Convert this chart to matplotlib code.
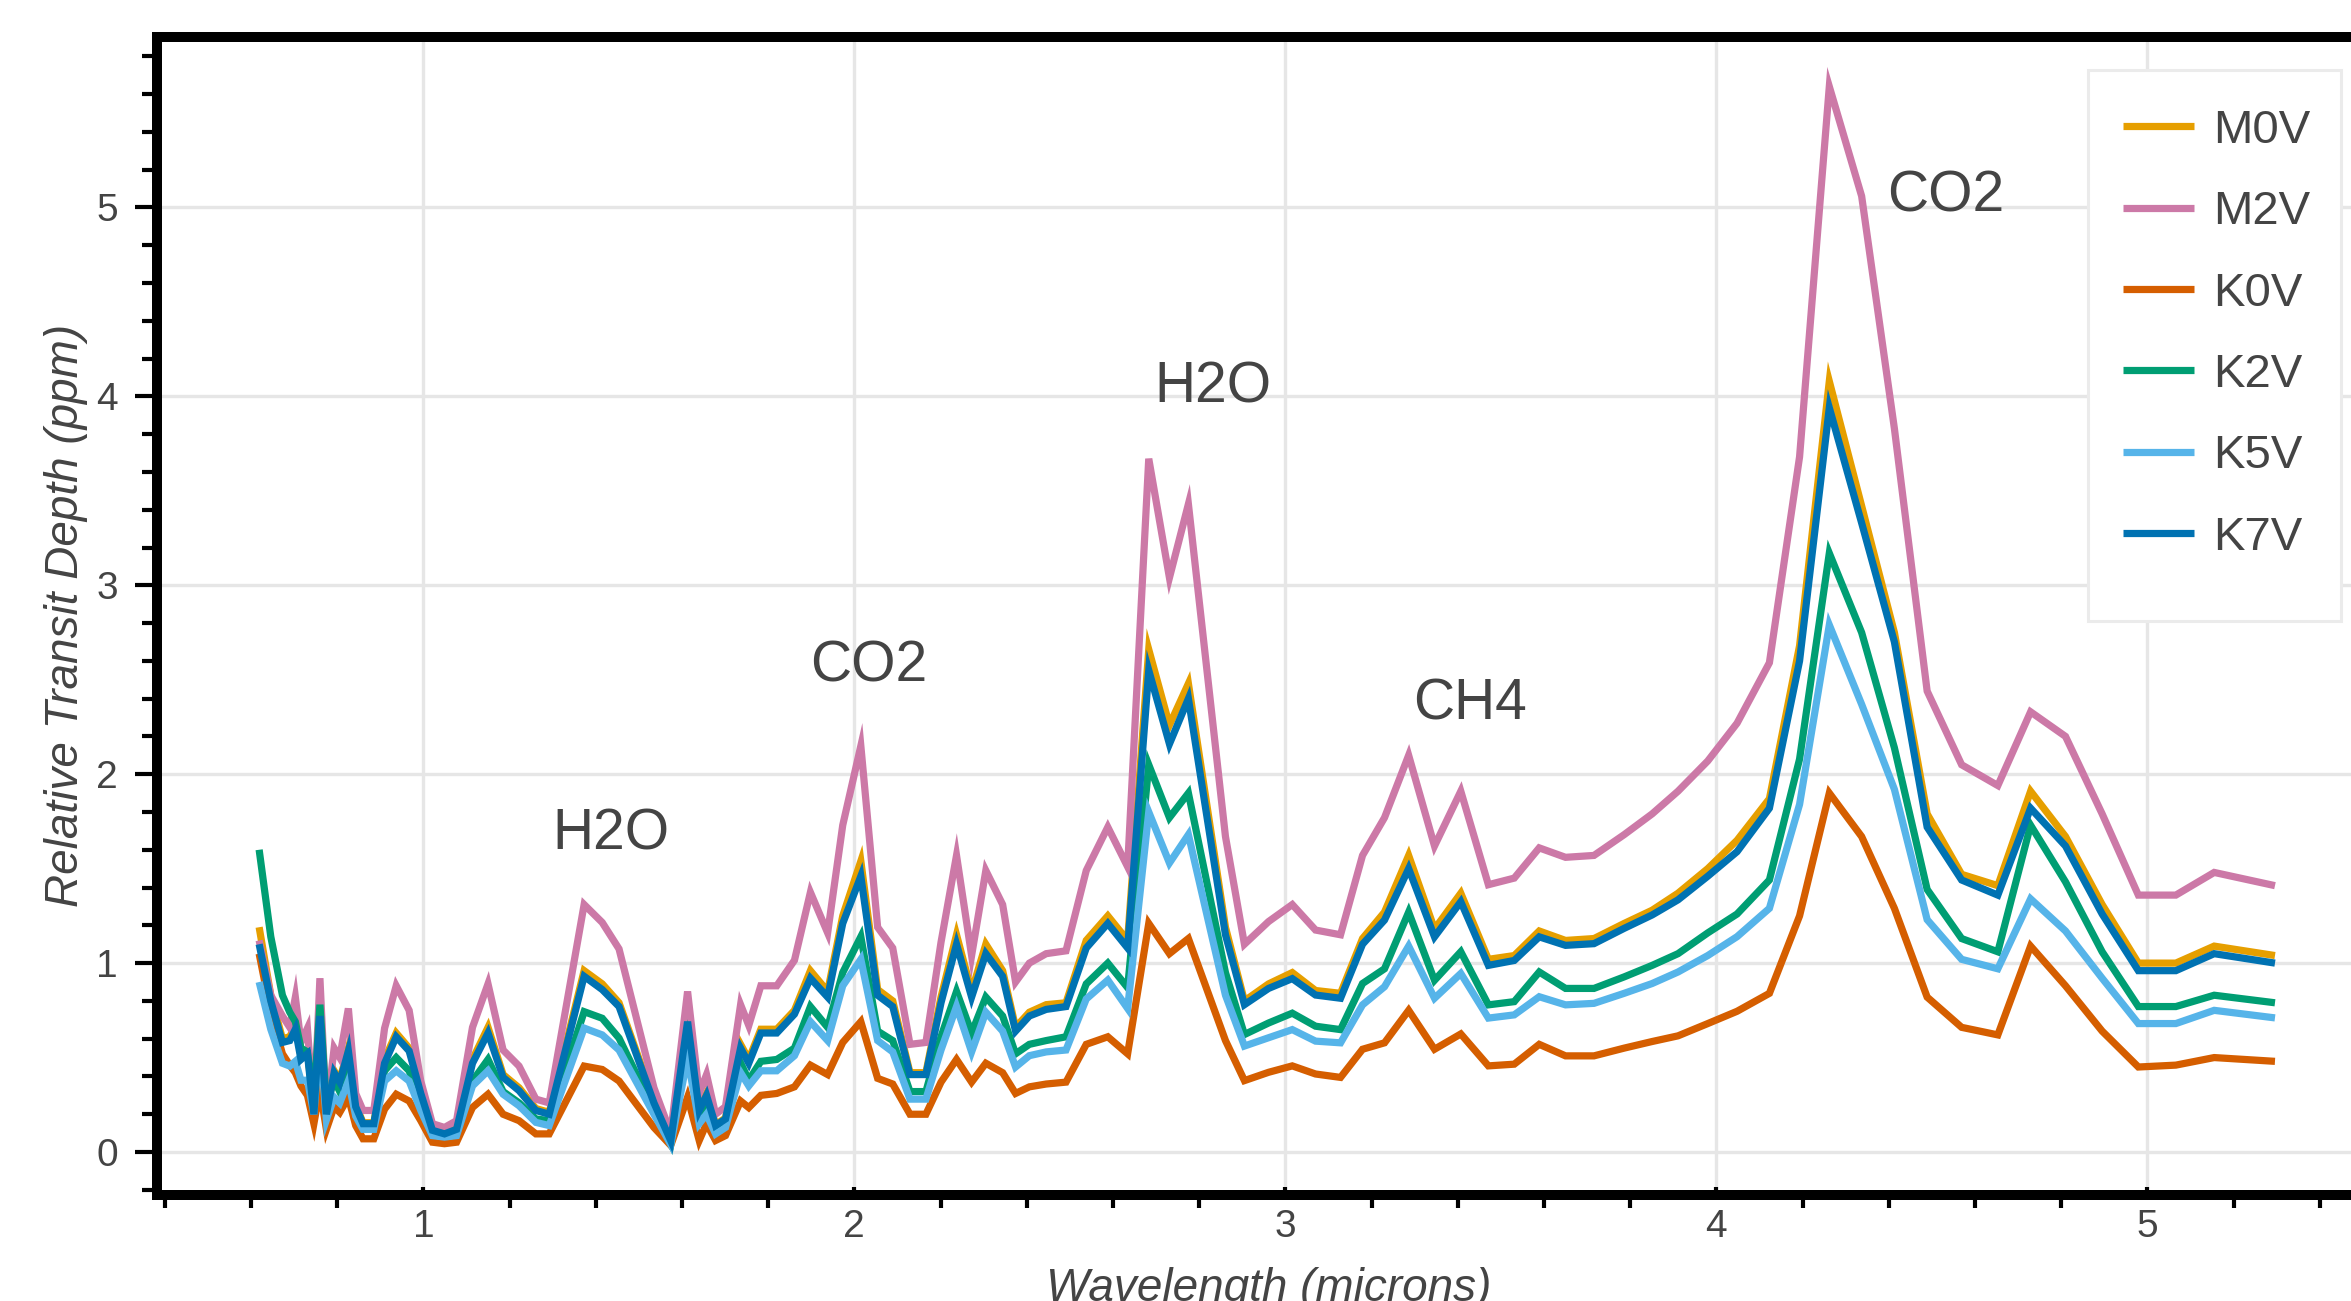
import matplotlib
matplotlib.use("Agg")
import matplotlib.pyplot as plt
from matplotlib.ticker import MultipleLocator
from matplotlib.patches import Rectangle

plt.rcParams['font.family'] = ['Liberation Sans', 'DejaVu Sans']

# ---------------- data ----------------
wavelength = [0.619, 0.646, 0.673, 0.690, 0.703, 0.716, 0.731, 0.746, 0.760, 0.775,
              0.793, 0.806, 0.826, 0.843, 0.860, 0.885, 0.910, 0.937, 0.967, 0.994,
              1.021, 1.049, 1.077, 1.114, 1.150, 1.185, 1.222, 1.261, 1.292, 1.373,
              1.415, 1.454, 1.535, 1.574, 1.613, 1.640, 1.657, 1.678, 1.701, 1.736,
              1.755, 1.783, 1.820, 1.861, 1.898, 1.938, 1.973, 2.015, 2.054, 2.089,
              2.129, 2.166, 2.201, 2.237, 2.272, 2.305, 2.344, 2.374, 2.406, 2.445,
              2.491, 2.538, 2.588, 2.634, 2.683, 2.731, 2.775, 2.861, 2.905, 2.961,
              3.016, 3.070, 3.128, 3.179, 3.230, 3.286, 3.346, 3.407, 3.471, 3.531,
              3.589, 3.650, 3.716, 3.786, 3.851, 3.911, 3.980, 4.048, 4.123, 4.193,
              4.262, 4.337, 4.413, 4.489, 4.569, 4.653, 4.729, 4.810, 4.895, 4.979,
              5.066, 5.155, 5.296]

m0v = [1.19, 0.83, 0.60, 0.61, 0.67, 0.51, 0.54, 0.21, 0.73, 0.21,
       0.43, 0.38, 0.55, 0.25, 0.155, 0.155, 0.49, 0.63, 0.55, 0.32,
       0.12, 0.10, 0.125, 0.49, 0.66, 0.41, 0.34, 0.23, 0.21, 0.96,
       0.89, 0.79, 0.27, 0.06, 0.71, 0.23, 0.31, 0.145, 0.18, 0.57,
       0.49, 0.65, 0.65, 0.75, 0.96, 0.85, 1.25, 1.54, 0.86, 0.80,
       0.42, 0.42, 0.82, 1.15, 0.85, 1.10, 0.96, 0.66, 0.74, 0.78,
       0.79, 1.12, 1.25, 1.12, 2.66, 2.26, 2.48, 1.19, 0.80, 0.89,
       0.95, 0.855, 0.84, 1.13, 1.27, 1.57, 1.18, 1.37, 1.02, 1.04,
       1.17, 1.12, 1.13, 1.21, 1.28, 1.37, 1.50, 1.65, 1.87, 2.68,
       4.08, 3.42, 2.75, 1.79, 1.47, 1.41, 1.91, 1.67, 1.31, 1.00,
       1.00, 1.09, 1.04]

m2v = [1.12, 0.83, 0.72, 0.66, 0.82, 0.58, 0.655, 0.20, 0.92, 0.20,
       0.55, 0.50, 0.76, 0.31, 0.22, 0.22, 0.655, 0.88, 0.75, 0.376,
       0.15, 0.13, 0.166, 0.66, 0.89, 0.54, 0.455, 0.28, 0.26, 1.31,
       1.215, 1.075, 0.34, 0.10, 0.85, 0.31, 0.41, 0.20, 0.24, 0.78,
       0.67, 0.88, 0.88, 1.015, 1.375, 1.16, 1.73, 2.15, 1.19, 1.08,
       0.57, 0.58, 1.11, 1.57, 1.04, 1.49, 1.31, 0.90, 1.00, 1.05,
       1.065, 1.49, 1.72, 1.51, 3.67, 3.04, 3.43, 1.67, 1.10, 1.22,
       1.31, 1.175, 1.15, 1.57, 1.77, 2.10, 1.62, 1.91, 1.415, 1.45,
       1.61, 1.56, 1.57, 1.68, 1.79, 1.91, 2.07, 2.27, 2.59, 3.68,
       5.64, 5.06, 3.83, 2.44, 2.05, 1.94, 2.33, 2.20, 1.79, 1.36,
       1.36, 1.48, 1.41]

k0v = [1.05, 0.74, 0.52, 0.46, 0.42, 0.35, 0.30, 0.15, 0.33, 0.12,
       0.24, 0.21, 0.29, 0.14, 0.07, 0.07, 0.227, 0.306, 0.27, 0.166,
       0.052, 0.044, 0.052, 0.236, 0.306, 0.20, 0.166, 0.096, 0.096, 0.455,
       0.437, 0.376, 0.13, 0.035, 0.29, 0.061, 0.15, 0.061, 0.087, 0.27,
       0.235, 0.30, 0.31, 0.345, 0.46, 0.41, 0.58, 0.69, 0.39, 0.36,
       0.20, 0.20, 0.37, 0.49, 0.37, 0.47, 0.42, 0.31, 0.345, 0.36,
       0.37, 0.57, 0.61, 0.52, 1.21, 1.05, 1.13, 0.59, 0.378, 0.422,
       0.456, 0.413, 0.395, 0.544, 0.578, 0.75, 0.544, 0.625, 0.456, 0.465,
       0.57, 0.509, 0.509, 0.55, 0.585, 0.615, 0.68, 0.745, 0.84, 1.25,
       1.90, 1.67, 1.29, 0.82, 0.66, 0.62, 1.09, 0.88, 0.64, 0.45,
       0.46, 0.50, 0.48]

k2v = [1.60, 1.14, 0.83, 0.74, 0.69, 0.55, 0.53, 0.27, 0.78, 0.25,
       0.38, 0.32, 0.45, 0.22, 0.14, 0.14, 0.43, 0.50, 0.43, 0.253,
       0.105, 0.096, 0.105, 0.376, 0.49, 0.32, 0.26, 0.175, 0.166, 0.743,
       0.708, 0.603, 0.22, 0.045, 0.58, 0.166, 0.236, 0.114, 0.149, 0.472,
       0.38, 0.48, 0.49, 0.55, 0.77, 0.66, 0.95, 1.14, 0.64, 0.59,
       0.32, 0.32, 0.61, 0.85, 0.63, 0.82, 0.72, 0.52, 0.57, 0.59,
       0.61, 0.89, 1.00, 0.87, 2.05, 1.77, 1.90, 0.95, 0.622, 0.683,
       0.735, 0.666, 0.648, 0.892, 0.97, 1.27, 0.909, 1.06, 0.779, 0.796,
       0.953, 0.866, 0.866, 0.927, 0.988, 1.05, 1.16, 1.26, 1.44, 2.08,
       3.17, 2.75, 2.14, 1.39, 1.13, 1.06, 1.73, 1.43, 1.06, 0.77,
       0.77, 0.83, 0.79]

k5v = [0.90, 0.65, 0.47, 0.455, 0.48, 0.38, 0.38, 0.20, 0.59, 0.17,
       0.29, 0.26, 0.376, 0.19, 0.12, 0.12, 0.376, 0.43, 0.376, 0.22,
       0.087, 0.079, 0.087, 0.35, 0.43, 0.306, 0.245, 0.157, 0.14, 0.656,
       0.62, 0.54, 0.20, 0.04, 0.50, 0.15, 0.20, 0.096, 0.13, 0.42,
       0.35, 0.43, 0.43, 0.51, 0.69, 0.59, 0.88, 1.02, 0.59, 0.53,
       0.28, 0.28, 0.54, 0.77, 0.53, 0.74, 0.64, 0.45, 0.51, 0.53,
       0.54, 0.81, 0.91, 0.76, 1.80, 1.53, 1.68, 0.83, 0.561, 0.605,
       0.648, 0.587, 0.578, 0.779, 0.875, 1.09, 0.814, 0.945, 0.709, 0.726,
       0.822, 0.779, 0.787, 0.84, 0.892, 0.953, 1.04, 1.14, 1.29, 1.84,
       2.79, 2.37, 1.92, 1.23, 1.02, 0.97, 1.34, 1.17, 0.92, 0.68,
       0.68, 0.75, 0.71]

k7v = [1.10, 0.80, 0.58, 0.59, 0.65, 0.49, 0.52, 0.20, 0.72, 0.20,
       0.42, 0.37, 0.535, 0.24, 0.15, 0.15, 0.47, 0.61, 0.535, 0.31,
       0.115, 0.096, 0.12, 0.47, 0.63, 0.395, 0.325, 0.22, 0.20, 0.93,
       0.86, 0.77, 0.26, 0.06, 0.69, 0.22, 0.30, 0.14, 0.175, 0.55,
       0.47, 0.63, 0.63, 0.73, 0.92, 0.82, 1.21, 1.46, 0.83, 0.77,
       0.41, 0.41, 0.79, 1.10, 0.82, 1.05, 0.93, 0.64, 0.72, 0.755,
       0.77, 1.08, 1.21, 1.08, 2.55, 2.16, 2.40, 1.15, 0.78, 0.866,
       0.918, 0.831, 0.814, 1.10, 1.228, 1.50, 1.139, 1.325, 0.988, 1.014,
       1.139, 1.094, 1.103, 1.184, 1.255, 1.335, 1.46, 1.59, 1.82, 2.60,
       3.94, 3.33, 2.70, 1.72, 1.44, 1.36, 1.82, 1.62, 1.26, 0.96,
       0.96, 1.05, 1.00]

series_names = ['M0V', 'M2V', 'K0V', 'K2V', 'K5V', 'K7V']
series_values = [m0v, m2v, k0v, k2v, k5v, k7v]
series_colors = ['#E69F00', '#CC79A7', '#D55E00', '#009E73', '#56B4E9', '#0072B2']

annotations = [('H2O', 1.435, 1.60), ('CO2', 2.033, 2.49), ('H2O', 2.833, 3.97),
               ('CH4', 3.428, 2.29), ('CO2', 4.532, 4.98)]

# ---------------- figure ----------------
W, H, DPI = 2351, 1301, 200
fig = plt.figure(figsize=(W / DPI, H / DPI), dpi=DPI)
fig.patch.set_facecolor('white')

ax_left, ax_right = 157, 2381
ax_top, ax_bottom = 36.5, 1195
ax = fig.add_axes([ax_left / W, (H - ax_bottom) / H,
                   (ax_right - ax_left) / W, (ax_bottom - ax_top) / H])

text_color = '#444444'

for name, vals, col in zip(series_names, series_values, series_colors):
    ax.plot(wavelength, vals, color=col, lw=2.6, label=name,
            solid_joinstyle='miter', solid_capstyle='butt')

ax.set_xlim(0.382, 5.542)
ax.set_ylim(-0.2275, 5.905)

ax.xaxis.set_major_locator(MultipleLocator(1))
ax.xaxis.set_minor_locator(MultipleLocator(0.2))
ax.yaxis.set_major_locator(MultipleLocator(1))
ax.yaxis.set_minor_locator(MultipleLocator(0.2))

ax.grid(True, which='major', color='#e6e6e6', lw=1.2)
ax.set_axisbelow(True)

for side in ['left', 'bottom', 'top', 'right']:
    ax.spines[side].set_linewidth(3.6)
    ax.spines[side].set_color('black')

ax.tick_params(axis='y', which='major', direction='out', length=8, width=1.5,
               pad=6, labelsize=14, labelcolor=text_color, color='black')
ax.tick_params(axis='y', which='minor', direction='out', length=5.5, width=1.5,
               color='black')
ax.tick_params(axis='x', which='major', direction='in', length=3, width=1.5,
               pad=5, labelsize=14, labelcolor=text_color, color='black')
ax.tick_params(axis='x', which='minor', direction='out', length=4.7, width=1.5,
               color='black')

ax.set_xlabel('Wavelength (microns)', fontsize=16.5, style='italic',
              color=text_color, labelpad=8)
ax.set_ylabel('Relative Transit Depth (ppm)', fontsize=16.5, style='italic',
              color=text_color, labelpad=3)

for txt, xw, yv in annotations:
    ax.text(xw, yv, txt, fontsize=20.5, color=text_color, ha='center',
            va='baseline')

# legend with explicit frame
frame = Rectangle((2088 / W, (H - 621) / H), 253 / W, 551 / H,
                  transform=fig.transFigure, facecolor='white',
                  edgecolor='#ebebeb', lw=1.1, zorder=4, clip_on=False)
ax.add_artist(frame)
leg = ax.legend(loc='upper left', bbox_to_anchor=(2123 / W, (H - 109) / H),
                bbox_transform=fig.transFigure, frameon=False, fontsize=17,
                handlelength=1.5, handletextpad=0.4, labelspacing=0.79,
                borderpad=0, borderaxespad=0)
leg.set_zorder(5)
for t in leg.get_texts():
    t.set_color(text_color)
for h in leg.get_lines():
    h.set_linewidth(2.6)

fig.savefig('out.png', dpi=DPI)
